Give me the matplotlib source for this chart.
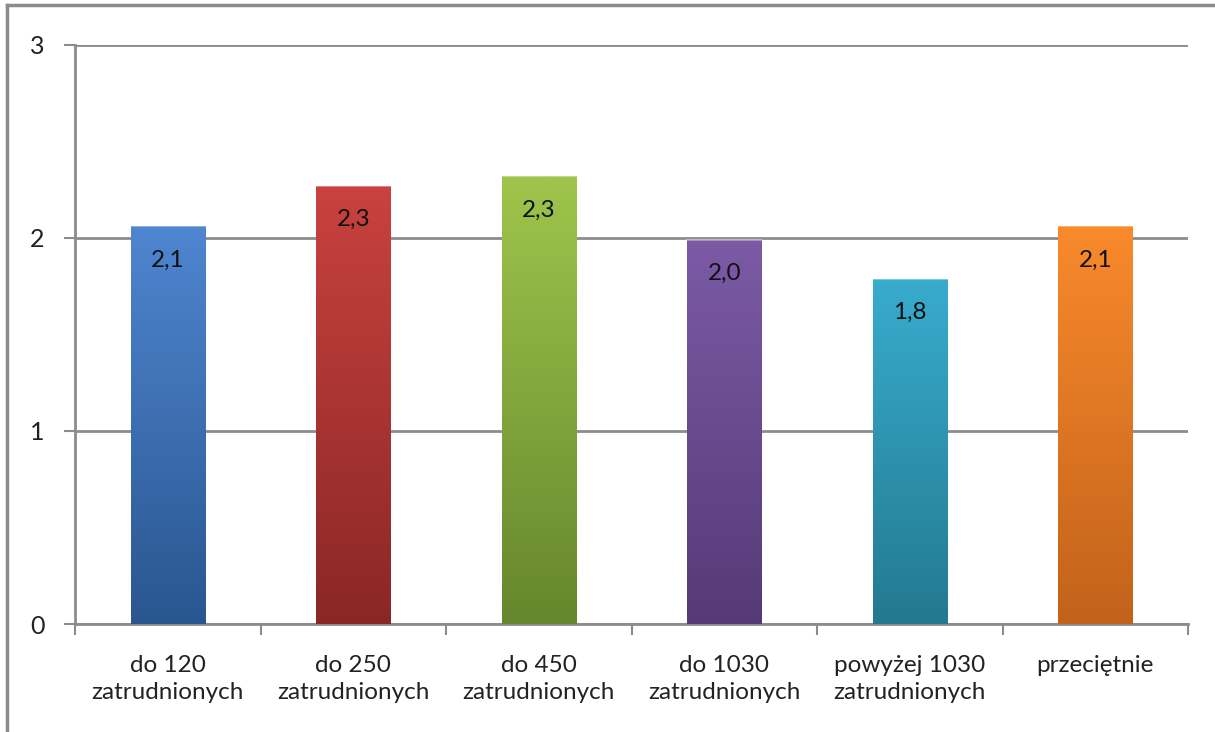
import numpy as np
import matplotlib
matplotlib.use("Agg")
import matplotlib.pyplot as plt
from matplotlib.colors import LinearSegmentedColormap
from matplotlib.lines import Line2D

plt.rcParams['font.family'] = ['Lato', 'DejaVu Sans']

categories = ["do 120\nzatrudnionych", "do 250\nzatrudnionych", "do 450\nzatrudnionych",
              "do 1030\nzatrudnionych", "powyżej 1030\nzatrudnionych", "przeciętnie"]
values = [2.06, 2.27, 2.32, 1.99, 1.79, 2.06]
labels = ["2,1", "2,3", "2,3", "2,0", "1,8", "2,1"]
top_colors = ["#4f86d0", "#c9423f", "#9fc54c", "#7c5aa6", "#38acce", "#f98a2c"]
bottom_colors = ["#2a5690", "#8a2726", "#66862d", "#553a76", "#23798f", "#c2621b"]

fig = plt.figure(figsize=(12.15, 7.32), dpi=100)
ax = fig.add_axes([75 / 1215, 1 - 624 / 732, (1188 - 75) / 1215, (624 - 45) / 732])

x = np.arange(len(categories))
bars = ax.bar(x, values, width=0.4, color="none", edgecolor="none", zorder=3)

# vertical gradient per bar, clipped to the bar shape
for b, c1, c2 in zip(bars, top_colors, bottom_colors):
    cmap = LinearSegmentedColormap.from_list("g", [c2, c1])
    grad = np.linspace(0, 1, 256).reshape(-1, 1)
    bx, by = b.get_x(), b.get_y()
    w, h = b.get_width(), b.get_height()
    im = ax.imshow(grad, cmap=cmap, origin="lower", aspect="auto",
                   extent=[bx, bx + w, by, by + h], zorder=3)
    im.set_clip_path(b)
    # light rim on the top edge
    ax.plot([bx, bx + w], [by + h, by + h], color="white", alpha=0.35, lw=1.5, zorder=4)

for xi, v, lab in zip(x, values, labels):
    ax.text(xi, v - 0.12, lab, ha="center", va="top", fontsize=17.5, color="#111111", zorder=5)

ax.set_xlim(-0.5, len(categories) - 0.5)
ax.set_ylim(0, 3)
ax.set_yticks([0, 1, 2, 3])
ax.set_yticklabels(["0", "1", "2", "3"])
ax.set_xticks(x)
ax.set_xticklabels(categories, fontsize=17.5, color="#222222", linespacing=1.4)
ax.set_xticks(np.arange(-0.5, len(categories)), minor=True)
ax.tick_params(axis="x", which="major", length=0, pad=22)
ax.tick_params(axis="x", which="minor", length=8, width=1.5, color="#8c8c8c", direction="out")
ax.tick_params(axis="y", length=8, width=1.5, color="#8c8c8c", labelsize=18, labelcolor="#222222", pad=14)

ax.yaxis.grid(True, color="#8c8c8c", lw=2, zorder=0)
ax.set_axisbelow(True)
for side in ["top", "right"]:
    ax.spines[side].set_visible(False)
for side in ["left", "bottom"]:
    ax.spines[side].set_color("#8c8c8c")
    ax.spines[side].set_linewidth(2)

# outer chart frame
fig.add_artist(Line2D([7 / 1215, 7 / 1215], [0, 1 - 5 / 732], color="#8c8c8c", lw=2.5,
                      transform=fig.transFigure))
fig.add_artist(Line2D([7 / 1215, 1], [1 - 5 / 732, 1 - 5 / 732], color="#8c8c8c", lw=2.5,
                      transform=fig.transFigure))

fig.savefig("out.png", dpi=100)
